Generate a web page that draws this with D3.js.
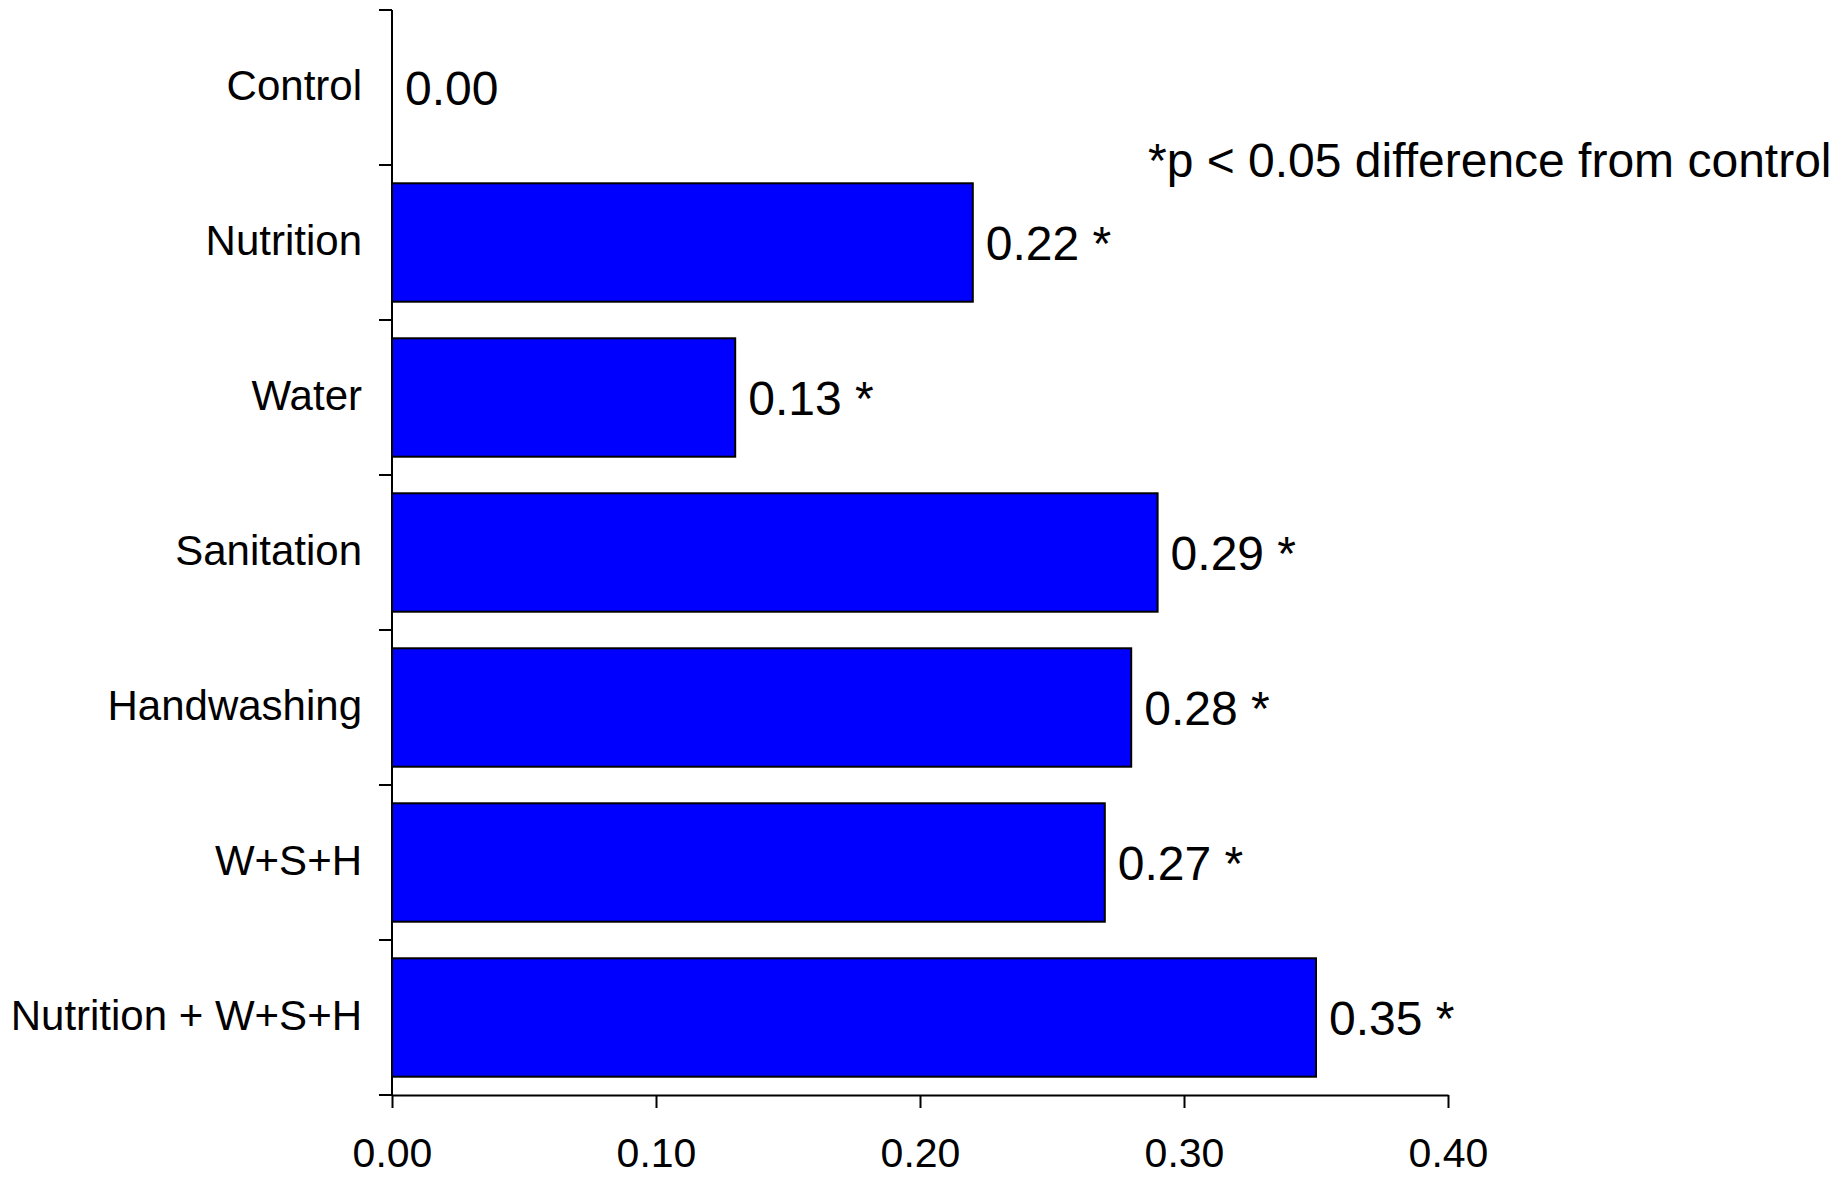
<!DOCTYPE html>
<html>
<head>
<meta charset="utf-8">
<script src="https://cdn.jsdelivr.net/npm/d3@7"></script>
<style>
  html, body { margin: 0; padding: 0; background: #fff; }
  svg { display: block; }
  text { font-family: "Liberation Sans", Arial, sans-serif; fill: #000; }
</style>
</head>
<body>
<svg id="chart" width="1847" height="1177"></svg>
<script>
const categories = ["Control", "Nutrition", "Water", "Sanitation", "Handwashing", "W+S+H", "Nutrition + W+S+H"];
const values = [0.00, 0.22, 0.13, 0.29, 0.28, 0.27, 0.35];
const significant = [false, true, true, true, true, true, true];
const xTicks = [0.00, 0.10, 0.20, 0.30, 0.40];
const noteText = "*p < 0.05 difference from control";

const svg = d3.select("#chart");
const x0 = 392, x1 = 1448, yTop = 10, yBottom = 1095;

const x = d3.scaleLinear().domain([0, 0.40]).range([x0, x1]);
const y = d3.scaleBand().domain(categories).range([yTop, yBottom])
  .paddingInner(0.236).paddingOuter(0.118);

// bars
svg.append("g").selectAll("rect")
  .data(categories.map((c, i) => ({ c, v: values[i], s: significant[i] })))
  .join("rect")
  .filter(d => d.v > 0)
  .attr("x", x(0))
  .attr("y", d => y(d.c))
  .attr("width", d => x(d.v) - x(0))
  .attr("height", y.bandwidth())
  .attr("fill", "#0000ff")
  .attr("stroke", "#000")
  .attr("stroke-width", 2);

// value labels
svg.append("g").selectAll("text")
  .data(categories.map((c, i) => ({ c, v: values[i], s: significant[i] })))
  .join("text")
  .attr("x", d => x(d.v) + 13)
  .attr("y", d => y(d.c) + y.bandwidth() / 2 + 17)
  .attr("font-size", 48)
  .attr("xml:space", "preserve")
  .text(d => d.v.toFixed(2) + (d.s ? " *" : ""));

// category labels
svg.append("g").selectAll("text")
  .data(categories)
  .join("text")
  .attr("x", 362)
  .attr("y", d => y(d) + y.bandwidth() / 2 + 12)
  .attr("text-anchor", "end")
  .attr("font-size", 42)
  .text(d => d);

// y axis line and boundary ticks
const yAxis = svg.append("g");
yAxis.append("line")
  .attr("x1", x0).attr("x2", x0)
  .attr("y1", yTop).attr("y2", yBottom)
  .attr("stroke", "#000").attr("stroke-width", 2);
const bounds = d3.range(categories.length + 1).map(i => yTop + i * y.step());
yAxis.selectAll("line.tick")
  .data(bounds)
  .join("line")
  .attr("class", "tick")
  .attr("x1", x0 - 13).attr("x2", x0)
  .attr("y1", d => d).attr("y2", d => d)
  .attr("stroke", "#000").attr("stroke-width", 2);

// x axis
const xAxisG = svg.append("g")
  .attr("transform", `translate(0,${yBottom})`)
  .call(d3.axisBottom(x).tickValues(xTicks).tickFormat(d3.format(".2f"))
    .tickSize(13).tickSizeOuter(0).tickPadding(30));
xAxisG.select(".domain").attr("stroke", "#000").attr("stroke-width", 2);
xAxisG.selectAll(".tick line").attr("stroke", "#000").attr("stroke-width", 2);
xAxisG.selectAll(".tick text")
  .attr("font-size", 41)
  .attr("font-family", "Liberation Sans, Arial, sans-serif")
  .attr("fill", "#000");

// note
svg.append("text")
  .attr("x", 1148)
  .attr("y", 177)
  .attr("font-size", 48)
  .text(noteText);
</script>
</body>
</html>
